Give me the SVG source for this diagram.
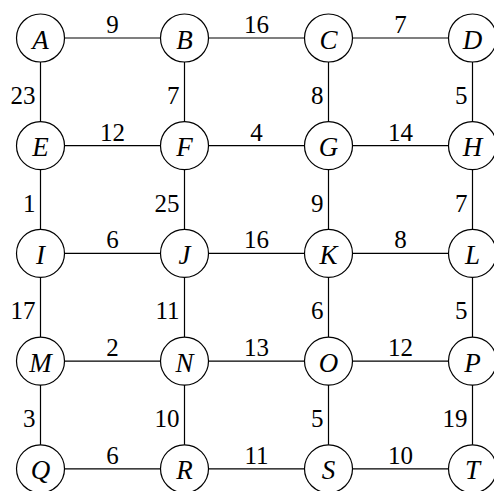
<svg xmlns="http://www.w3.org/2000/svg" width="494" height="491" viewBox="0 0 494 491">
<style>
.e{stroke:#000;stroke-width:1.2;fill:none}
.n circle{fill:#fff;stroke:#000;stroke-width:1.2}
.n text{font-family:"Liberation Serif",serif;font-style:italic;font-size:27px;text-anchor:middle;fill:#000}
.l{font-family:"Liberation Serif",serif;font-size:25px;fill:#000}
.h{text-anchor:middle}
.v{text-anchor:end}
</style>
<rect width="494" height="491" fill="#fff"/>
<g id="connectors">
<path class="e" d="M40.5 38H472.5M40.5 145.7H472.5M40.5 253.4H472.5M40.5 361.1H472.5M40.5 468.8H472.5M40.5 38V491M184.5 38V491M328.5 38V491M472.5 38V491"/>
</g>
<g id="labels">
<text class="l h" x="112.5" y="33">9</text>
<text class="l h" x="256.5" y="33">16</text>
<text class="l h" x="400.5" y="33">7</text>
<text class="l h" x="112.5" y="140.7">12</text>
<text class="l h" x="256.5" y="140.7">4</text>
<text class="l h" x="400.5" y="140.7">14</text>
<text class="l h" x="112.5" y="248.4">6</text>
<text class="l h" x="256.5" y="248.4">16</text>
<text class="l h" x="400.5" y="248.4">8</text>
<text class="l h" x="112.5" y="356.1">2</text>
<text class="l h" x="256.5" y="356.1">13</text>
<text class="l h" x="400.5" y="356.1">12</text>
<text class="l h" x="112.5" y="463.8">6</text>
<text class="l h" x="256.5" y="463.8">11</text>
<text class="l h" x="400.5" y="463.8">10</text>
<text class="l v" x="35.5" y="104">23</text>
<text class="l v" x="179.5" y="104">7</text>
<text class="l v" x="323.5" y="104">8</text>
<text class="l v" x="467.5" y="104">5</text>
<text class="l v" x="35.5" y="211.7">1</text>
<text class="l v" x="179.5" y="211.7">25</text>
<text class="l v" x="323.5" y="211.7">9</text>
<text class="l v" x="467.5" y="211.7">7</text>
<text class="l v" x="35.5" y="319.4">17</text>
<text class="l v" x="179.5" y="319.4">11</text>
<text class="l v" x="323.5" y="319.4">6</text>
<text class="l v" x="467.5" y="319.4">5</text>
<text class="l v" x="35.5" y="427.1">3</text>
<text class="l v" x="179.5" y="427.1">10</text>
<text class="l v" x="323.5" y="427.1">5</text>
<text class="l v" x="467.5" y="427.1">19</text>
</g>
<g id="A" class="n"><circle cx="40.5" cy="38" r="24"/><text x="40.5" y="48.5">A</text></g>
<g id="B" class="n"><circle cx="184.5" cy="38" r="24"/><text x="184.5" y="48.5">B</text></g>
<g id="C" class="n"><circle cx="328.5" cy="38" r="24"/><text x="328.5" y="48.5">C</text></g>
<g id="D" class="n"><circle cx="472.5" cy="38" r="24"/><text x="472.5" y="48.5">D</text></g>
<g id="E" class="n"><circle cx="40.5" cy="145.7" r="24"/><text x="40.5" y="156.2">E</text></g>
<g id="F" class="n"><circle cx="184.5" cy="145.7" r="24"/><text x="184.5" y="156.2">F</text></g>
<g id="G" class="n"><circle cx="328.5" cy="145.7" r="24"/><text x="328.5" y="156.2">G</text></g>
<g id="H" class="n"><circle cx="472.5" cy="145.7" r="24"/><text x="472.5" y="156.2">H</text></g>
<g id="I" class="n"><circle cx="40.5" cy="253.4" r="24"/><text x="40.5" y="263.9">I</text></g>
<g id="J" class="n"><circle cx="184.5" cy="253.4" r="24"/><text x="184.5" y="263.9">J</text></g>
<g id="K" class="n"><circle cx="328.5" cy="253.4" r="24"/><text x="328.5" y="263.9">K</text></g>
<g id="L" class="n"><circle cx="472.5" cy="253.4" r="24"/><text x="472.5" y="263.9">L</text></g>
<g id="M" class="n"><circle cx="40.5" cy="361.1" r="24"/><text x="40.5" y="371.6">M</text></g>
<g id="N" class="n"><circle cx="184.5" cy="361.1" r="24"/><text x="184.5" y="371.6">N</text></g>
<g id="O" class="n"><circle cx="328.5" cy="361.1" r="24"/><text x="328.5" y="371.6">O</text></g>
<g id="P" class="n"><circle cx="472.5" cy="361.1" r="24"/><text x="472.5" y="371.6">P</text></g>
<g id="Q" class="n"><circle cx="40.5" cy="468.8" r="24"/><text x="40.5" y="479.3">Q</text></g>
<g id="R" class="n"><circle cx="184.5" cy="468.8" r="24"/><text x="184.5" y="479.3">R</text></g>
<g id="S" class="n"><circle cx="328.5" cy="468.8" r="24"/><text x="328.5" y="479.3">S</text></g>
<g id="T" class="n"><circle cx="472.5" cy="468.8" r="24"/><text x="472.5" y="479.3">T</text></g>
</svg>
